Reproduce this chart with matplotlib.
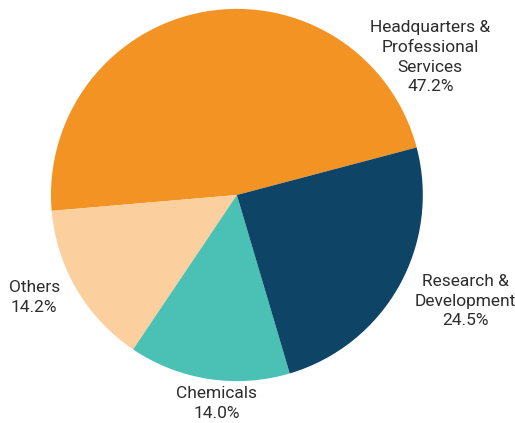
import matplotlib.pyplot as plt

plt.rcParams['font.family'] = ['Roboto', 'DejaVu Sans']

# sector shares, counter-clockwise from the upper-right boundary
labels = ['Headquarters &\nProfessional\nServices', 'Others', 'Chemicals', 'Research &\nDevelopment']
shares = [47.2, 14.2, 14.0, 24.5]
colors = ['#F39324', '#FCCF9E', '#4BC0B5', '#0E4466']
label_pos = [(1.04, 0.74), (-1.09, -0.55), (-0.11, -1.12), (1.23, -0.57)]

fig = plt.figure(figsize=(5.15, 4.23), dpi=100)
ax = fig.add_axes([0.460 - 0.361, 0.539 - 0.440, 0.722, 0.880])

ax.pie(shares, colors=colors, startangle=14.8, counterclock=True,
       radius=1, wedgeprops=dict(linewidth=0))

for lab, val, (x, y) in zip(labels, shares, label_pos):
    ax.text(x, y, f"{lab}\n{val:.1f}%", ha='center', va='center',
            fontsize=12.5, color='#2d2d2d', linespacing=1.4)

ax.set_xlim(-1, 1)
ax.set_ylim(-1, 1)
ax.set_aspect('auto')
ax.axis('off')

plt.savefig("out.png", dpi=100)
